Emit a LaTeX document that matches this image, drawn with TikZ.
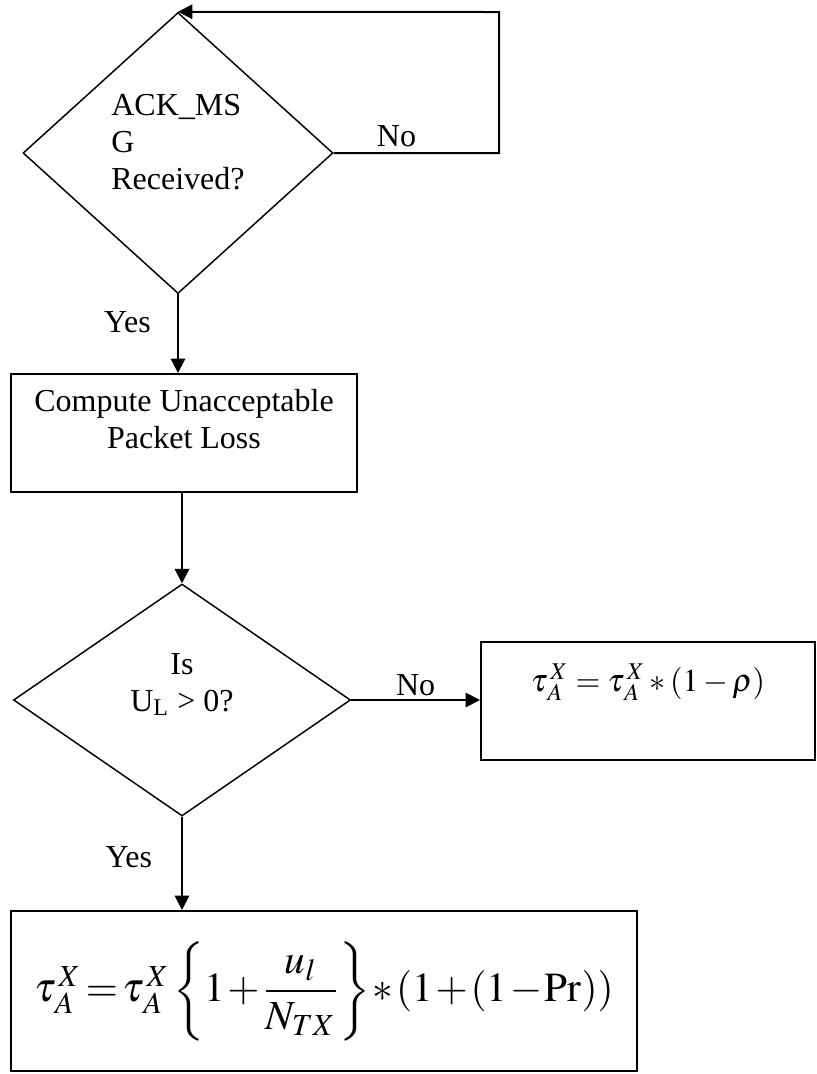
\documentclass[tikz,border=0pt]{standalone}
\usepackage{amsmath}
\usepackage{mathptmx}
\usepackage{fontspec}
\setmainfont{Liberation Serif}
\usepackage{tikz}
\usetikzlibrary{shapes.geometric,arrows.meta,positioning,calc}
% pushes a node text upwards by giving it extra depth
\newcommand{\lift}[2]{\raisebox{0pt}[\height][\dimexpr\depth+#1\relax]{#2}}
% tau with both indices, set a little apart from the letter
\newcommand{\tauAX}{\tau_{\,A}^{\,X}}

\begin{document}
\begin{tikzpicture}[%
    x=0.375pt, y=-0.375pt,       % one unit is one pixel of the page
    >={Triangle[length=5.4pt,width=5.4pt]},
    font=\fontsize{12}{13.8}\selectfont
    ]
% -------------------------------------------------
% Box and connector styles
\tikzset{
  base/.style={draw, align=center, inner sep=0pt},
  proc/.style={base, rectangle, line width=0.75pt},
  test/.style={base, diamond, line width=0.55pt},
  norm/.style={->, draw, line width=0.75pt},
  lbl/.style={inner sep=2pt},
  tight/.style={execute at begin node={\thickmuskip=2mu \medmuskip=1.2mu \thinmuskip=1.5mu}}
}
\useasboundingbox (0,0) rectangle (817,1074);
% -------------------------------------------------
% The main column, top to bottom
\node [test, minimum width=116.25pt, minimum height=105.4pt] (d1) at (178,153)
  {\lift{6pt}{\begin{tabular}{@{}l@{}}ACK\_MS\\G\\Received?\end{tabular}}};
\node [proc, minimum width=129.75pt, minimum height=44.25pt] (cmp) at (184,433)
  {\lift{7.5pt}{\begin{tabular}{@{}c@{}}Compute Unacceptable\\Packet Loss\end{tabular}}};
\node [test, minimum width=126.4pt, minimum height=87pt] (d2) at (182,700)
  {\lift{11pt}{\begin{tabular}{@{}c@{}}Is\\U\textsubscript{L} > 0?\end{tabular}}};
\node [proc, tight, minimum width=235.1pt, minimum height=60pt] (fin) at (324,991)
  {\fontsize{15.5}{20}\selectfont
   $\tauAX = \tauAX \left\{1+\dfrac{u_l}{N_{TX}}\right\} * (1+(1-\mathrm{Pr}))$};

% right node
\node [proc, minimum width=125.25pt, minimum height=44.25pt] (tbox) at (648,701)
  {\lift{14pt}{$\tauAX = \tauAX * (1-\rho)$}};

% -------------------------------------------------
% Straight connections, label first, then the arrow
\path (d1.south) -- (d1.south |- cmp.north) node [pos=.36, left=8pt, lbl] {Yes};
  \draw [norm] (d1.south) -- (d1.south |- cmp.north);
  \draw [norm] (d2.north |- cmp.south) -- (d2.north);
\path (d2.east) -- (d2.east -| tbox.west) node [pos=.5, above, inner sep=1.5pt] {No};
  \draw [norm] (d2.east) -- (d2.east -| tbox.west);
\path (d2.south) -- (d2.south |- fin.north) node [pos=.43, left=9pt, lbl] {Yes};
  \draw [norm] (d2.south) -- (d2.south |- fin.north);

% -------------------------------------------------
% The loop back to the first test
\coordinate (loop) at (499,12);
\path (d1.east) -- (d1.east -| loop) node [pos=.38, above, lbl] {No};
\draw [norm] (d1.east) -| (loop) -- (d1.north);
\end{tikzpicture}
\end{document}
